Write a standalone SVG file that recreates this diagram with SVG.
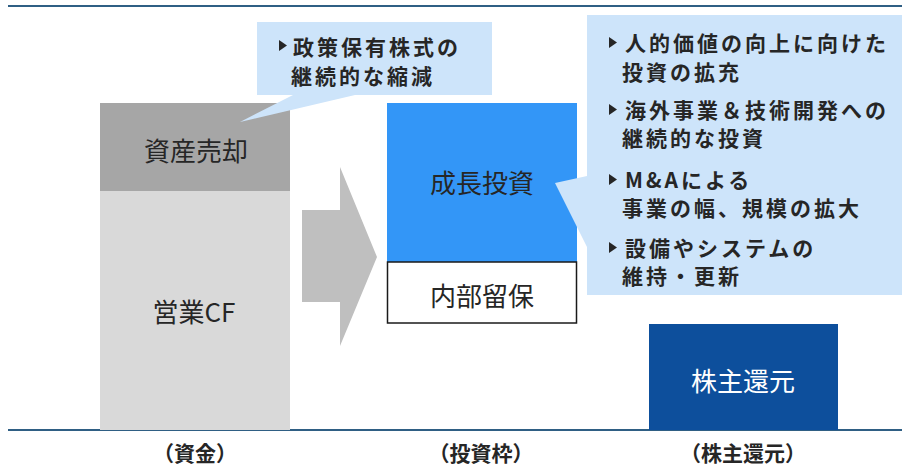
<svg xmlns="http://www.w3.org/2000/svg" width="902" height="468" viewBox="0 0 902 468">
<style>
.t{font-family:"Noto Sans CJK JP","Noto Sans",sans-serif;fill:#262626;text-anchor:middle}
.big{font-size:26px}
.c{font-family:"Noto Sans CJK JP","Noto Sans",sans-serif;fill:#262626;font-size:21px;letter-spacing:3px;font-weight:bold}
.bl{fill:#262626}
.lab{font-size:21px;font-weight:bold}
.call{fill:#cde4fa}
</style>
<rect width="902" height="468" fill="#ffffff"/>
<line x1="8" y1="6" x2="902" y2="6" stroke="#2f5f84" stroke-width="2"/>
<line x1="8" y1="430" x2="902" y2="430" stroke="#2f5f84" stroke-width="2"/>

<g id="connectors">
  <polygon points="302,210 340,210 340,167 377,257 340,346 340,302 302,302" fill="#bfbfbf"/>
</g>

<g id="asset-sale">
  <rect x="100" y="103" width="190" height="88" fill="#a6a6a6"/>
  <text class="t big" x="196" y="161">資産売却</text>
</g>
<g id="operating-cf">
  <rect x="100" y="191" width="190" height="239" fill="#d9d9d9"/>
  <text class="t big" x="194" y="322">営業CF</text>
</g>
<g id="callout-1">
  <polygon class="call" points="257,22 492,22 492,95 355,95 240,122 293,95 257,95"/>
  <polygon class="bl" points="279,40 279,51 287,45.5"/>
  <text class="c" x="293" y="55">政策保有株式の</text>
  <text class="c" x="291" y="84">継続的な縮減</text>
</g>
<g id="growth-invest">
  <rect x="387" y="103" width="190" height="159" fill="#3396f7"/>
  <text class="t big" x="482" y="193">成長投資</text>
</g>
<g id="retained">
  <rect x="387.5" y="262" width="189" height="61" fill="#ffffff" stroke="#1a1a1a" stroke-width="1.5"/>
  <text class="t big" x="482" y="306">内部留保</text>
</g>
<g id="callout-2">
  <polygon class="call" points="587,15 902,15 902,295 587,295 587,247 555,183 587,176"/>
  <polygon class="bl" points="609,37 609,48 617,42.5"/>
  <text class="c" x="625" y="51">人的価値の向上に向けた</text>
  <text class="c" x="622" y="80">投資の拡充</text>
  <polygon class="bl" points="609,104 609,115 617,109.5"/>
  <text class="c" x="625" y="118">海外事業＆技術開発への</text>
  <text class="c" x="622" y="146">継続的な投資</text>
  <polygon class="bl" points="609,174 609,185 617,179.5"/>
  <text class="c" x="625" y="188">M&amp;Aによる</text>
  <text class="c" x="622" y="216">事業の幅、規模の拡大</text>
  <polygon class="bl" points="609,242 609,253 617,247.5"/>
  <text class="c" x="625" y="256">設備やシステムの</text>
  <text class="c" x="622" y="284">維持・更新</text>
</g>
<g id="shareholder-return">
  <rect x="649" y="324" width="189" height="106" fill="#0d4f9c"/>
  <text class="t big" x="743" y="391" style="fill:#ffffff">株主還元</text>
</g>
<g id="labels">
  <text class="t lab" x="195" y="461">（資金）</text>
  <text class="t lab" x="481" y="461">（投資枠）</text>
  <text class="t lab" x="743" y="461">（株主還元）</text>
</g>
</svg>
